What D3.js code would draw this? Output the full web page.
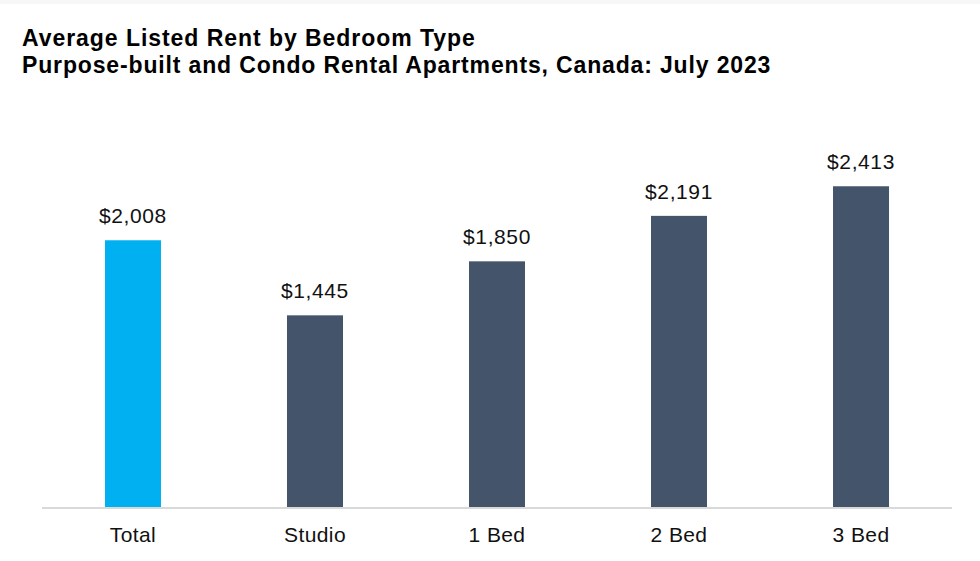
<!DOCTYPE html>
<html>
<head>
<meta charset="utf-8">
<script src="https://cdn.jsdelivr.net/npm/d3@7/dist/d3.min.js"></script>
<style>
html,body{margin:0;padding:0;background:#fff;}
svg{display:block;}
</style>
</head>
<body>
<svg id="chart" width="980" height="561"></svg>
<script>
const titleLines = ["Average Listed Rent by Bedroom Type", "Purpose-built and Condo Rental Apartments, Canada: July 2023"];
const categories = ["Total", "Studio", "1 Bed", "2 Bed", "3 Bed"];
const rents = [2008, 1445, 1850, 2191, 2413];
const highlight = ["Total"];

const svg = d3.select("#chart");
const W = 980, H = 561;
svg.append("rect").attr("x",0).attr("y",0).attr("width",W).attr("height",4).attr("fill","#f7f7f7");

const x = d3.scaleBand().domain(categories).range([42, 952]).paddingInner(0.6923).paddingOuter(0.346);
const y = d3.scaleLinear().domain([0, 3000]).range([508, 108]);

svg.selectAll("text.title").data(titleLines).enter().append("text")
  .attr("class","title")
  .attr("x", 22).attr("y", (d,i) => 46 + i*27)
  .attr("font-family","'Liberation Sans', Arial, sans-serif")
  .attr("font-weight","bold").attr("font-size", 23)
  .attr("letter-spacing", (d,i) => i === 0 ? "0.95px" : "0.85px")
  .attr("fill","#000").text(d => d);

const data = categories.map((c,i) => ({c, v: rents[i]}));

svg.selectAll("rect.bar").data(data).enter().append("rect")
  .attr("class","bar")
  .attr("x", d => x(d.c)).attr("width", x.bandwidth())
  .attr("y", d => y(d.v)).attr("height", d => y(0) - y(d.v))
  .attr("fill", d => highlight.includes(d.c) ? "#00b0f0" : "#44546a");

svg.selectAll("text.val").data(data).enter().append("text")
  .attr("class","val")
  .attr("x", d => x(d.c) + x.bandwidth()/2).attr("y", d => y(d.v) - 17)
  .attr("text-anchor","middle")
  .attr("font-family","'Liberation Sans', Arial, sans-serif")
  .attr("font-size", 21).attr("letter-spacing","0.6px")
  .attr("fill","#111")
  .text(d => "$" + d3.format(",")(d.v));

const xAxis = d3.axisBottom(x).tickSize(0).tickPadding(0);
const gx = svg.append("g").attr("transform", "translate(0,508)").call(xAxis);
gx.select(".domain").attr("stroke","#d9d9d9").attr("stroke-width",2).attr("d","M42,0H952");
gx.selectAll(".tick text")
  .attr("y", 34).attr("dy", 0)
  .attr("font-family","'Liberation Sans', Arial, sans-serif")
  .attr("font-size", 21).attr("letter-spacing","0.4px")
  .attr("fill","#111");
</script>
</body>
</html>
